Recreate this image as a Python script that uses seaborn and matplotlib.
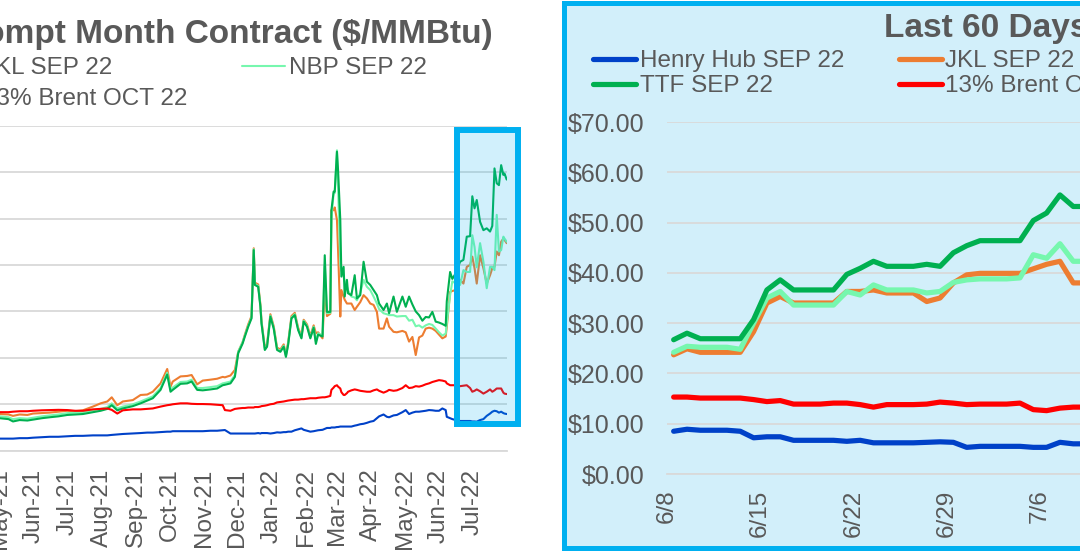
import pandas as pd
import matplotlib
matplotlib.use("Agg")
import matplotlib.pyplot as plt
from matplotlib.patches import Rectangle
import seaborn as sns

sns.set_theme(style="white")
plt.rcParams['font.family'] = ['Liberation Sans', 'DejaVu Sans']
plt.rcParams['text.color'] = '#595959'

W, H = 1080, 554

names = ["Henry Hub SEP 22", "JKL SEP 22", "NBP SEP 22", "TTF SEP 22", "13% Brent OCT 22"]
colors = ["#0041C8", "#ED7D31", "#76F7AE", "#00B050", "#FF0000"]

# ---- full history (left chart) ----
hist_dates = [
    "2021-05-01", "2021-05-09", "2021-05-13", "2021-05-19", "2021-05-26", "2021-05-31",
    "2021-06-08", "2021-06-15", "2021-06-23", "2021-07-01", "2021-07-08", "2021-07-15",
    "2021-07-24", "2021-07-31", "2021-08-06", "2021-08-10", "2021-08-15", "2021-08-20",
    "2021-08-29", "2021-09-05", "2021-09-11", "2021-09-16", "2021-09-23", "2021-09-29",
    "2021-10-02", "2021-10-04", "2021-10-11", "2021-10-17", "2021-10-21", "2021-10-26",
    "2021-10-31", "2021-11-07", "2021-11-13", "2021-11-18", "2021-11-20", "2021-11-25",
    "2021-11-29", "2021-12-02", "2021-12-06",
    "2021-12-08", "2021-12-11", "2021-12-14", "2021-12-16", "2021-12-17", "2021-12-20",
    "2021-12-22", "2021-12-23", "2021-12-26", "2021-12-28", "2021-12-31", "2022-01-03",
    "2022-01-06", "2022-01-09", "2022-01-12", "2022-01-14", "2022-01-16", "2022-01-19",
    "2022-01-22", "2022-01-25", "2022-01-28", "2022-01-30", "2022-02-02", "2022-02-05",
    "2022-02-08", "2022-02-10", "2022-02-12", "2022-02-16", "2022-02-18", "2022-02-20",
    "2022-02-23", "2022-02-24", "2022-02-26", "2022-02-27", "2022-03-01", "2022-03-02",
    "2022-03-04", "2022-03-05", "2022-03-07", "2022-03-08", "2022-03-10", "2022-03-11",
    "2022-03-14", "2022-03-17", "2022-03-19", "2022-03-22", "2022-03-25", "2022-03-28",
    "2022-03-31", "2022-04-03", "2022-04-06", "2022-04-08", "2022-04-12", "2022-04-15",
    "2022-04-17", "2022-04-21", "2022-04-24", "2022-04-29", "2022-05-02", "2022-05-05",
    "2022-05-08", "2022-05-11", "2022-05-14", "2022-05-17", "2022-05-20", "2022-05-23",
    "2022-05-26", "2022-05-29", "2022-06-01", "2022-06-04", "2022-06-07", "2022-06-08",
    "2022-06-11", "2022-06-13", "2022-06-16", "2022-06-20", "2022-06-23", "2022-06-26",
    "2022-06-29", "2022-07-01", "2022-07-03", "2022-07-05", "2022-07-08", "2022-07-11",
    "2022-07-14", "2022-07-17", "2022-07-19", "2022-07-21", "2022-07-23", "2022-07-25",
    "2022-07-27", "2022-07-29", "2022-07-30", "2022-08-01",
]
hist_hh = [
    2.6, 2.6, 2.6, 2.7, 2.7, 2.8, 2.9, 3.0, 3.0, 3.1, 3.2, 3.2,
    3.3, 3.3, 3.3, 3.4, 3.5, 3.6, 3.7, 3.8, 3.9, 3.9, 4.0, 4.1,
    4.1, 4.2, 4.2, 4.2, 4.2, 4.2, 4.2, 4.3, 4.3, 4.4, 4.45, 3.7,
    3.7, 3.7, 3.7,
    3.7, 3.7, 3.7, 3.7, 3.7, 3.8, 3.7, 3.8, 3.8, 3.8, 3.7, 3.8,
    3.95, 3.9, 4.0, 4.0, 4.1, 4.1, 4.4, 4.6, 4.8, 4.5, 4.3, 4.1,
    4.2, 4.3, 4.4, 4.5, 4.7, 4.9, 4.9, 5.0, 5.0, 5.0, 5.1, 5.1,
    5.2, 5.2, 5.2, 5.2, 5.2, 5.2, 5.2, 5.4, 5.5, 5.7, 5.8, 6.0,
    6.25, 6.4, 7.0, 7.4, 7.8, 7.3, 7.2, 7.6, 7.7, 8.3, 8.75, 7.9,
    8.2, 8.4, 8.4, 8.5, 8.6, 8.75, 8.7, 8.6, 8.6, 9.1, 8.75, 7.3,
    7.0, 6.8, 6.6, 6.4, 6.4, 6.4, 6.4, 6.3, 6.3, 6.25, 6.6, 6.8,
    7.5, 8.0, 8.4, 8.6, 8.5, 8.2, 8.4, 8.1, 8.0, 7.9,
]
hist_jkl = [
    7.9, 7.8, 7.5, 7.8, 7.7, 8.0, 8.1, 8.2, 8.4, 8.6, 8.5, 8.7,
    9.5, 10.2, 10.6, 11.5, 9.8, 10.6, 10.9, 12.0, 12.1, 12.7, 14.5, 17.6,
    13.8, 14.9, 16.0, 16.1, 16.3, 14.3, 15.1, 15.3, 15.5, 15.9, 15.8, 16.2,
    17.4, 21.3, 23.4,
    25.0, 27.2, 29.0, 43.6, 36.2, 35.8, 31.5, 27.9, 22.2, 22.9, 29.4, 26.8,
    22.2, 21.8, 22.9, 20.7, 23.3, 29.0, 29.7, 26.5, 24.7, 28.2, 27.2, 24.7,
    27.0, 25.3, 25.5, 24.2, 35.0, 29.0, 29.5, 51.8, 51.8, 52.4, 49.7, 43.2,
    28.9, 34.6, 33.2, 32.5, 31.7, 31.7, 31.7, 30.3, 31.0, 32.0, 33.5, 32.8,
    31.7, 31.4, 29.9, 26.3, 26.3, 28.5, 26.7, 25.6, 25.5, 25.8, 25.5, 23.5,
    24.5, 20.6, 24.4, 24.8, 26.3, 26.5, 26.3, 25.8, 25.0, 24.2, 24.6, 26.7,
    34.2, 34.4, 34.6, 36.8, 36.0, 39.6, 40.0, 41.8, 39.3, 36.0, 42.1, 39.3,
    36.0, 37.8, 39.3, 39.6, 42.9, 42.1, 45.0, 45.7, 45.4, 44.7,
]
hist_nbp = [
    7.4, 7.2, 6.8, 7.0, 6.9, 7.1, 7.4, 7.6, 7.8, 8.1, 8.2, 8.3,
    8.7, 9.0, 9.4, 10.2, 9.1, 9.5, 10.0, 10.6, 11.2, 11.7, 13.5, 16.8,
    13.1, 13.6, 14.8, 14.9, 15.3, 13.5, 13.5, 13.7, 13.9, 14.5, 14.6, 14.9,
    16.3, 21.3, 23.4,
    24.8, 26.9, 28.7, 43.4, 35.9, 35.5, 31.2, 27.6, 21.8, 22.6, 29.1, 26.5,
    21.9, 21.5, 22.6, 20.4, 23.0, 28.7, 29.4, 26.2, 24.4, 28.0, 26.9, 24.4,
    26.7, 23.5, 25.3, 24.8, 40.0, 29.6, 29.7, 50.0, 55.5, 55.5, 64.7, 57.0,
    40.3, 38.9, 37.5, 36.5, 35.3, 34.5, 33.2, 33.0, 32.4, 34.0, 36.8, 35.3,
    34.6, 33.2, 31.7, 30.5, 29.6, 29.4, 29.2, 29.2, 28.9, 29.0, 29.0, 28.0,
    28.2, 26.8, 27.0, 26.5, 27.0, 27.3, 27.1, 26.3, 25.5, 24.8, 25.2, 27.5,
    33.5, 36.5, 36.0, 35.7, 38.9, 38.5, 38.5, 46.4, 43.9, 39.5, 44.7, 40.7,
    35.0, 39.6, 39.6, 38.9, 50.8, 42.9, 43.2, 46.1, 45.7, 45.0,
]
hist_ttf = [
    7.0, 6.8, 6.3, 6.6, 6.5, 6.7, 7.0, 7.2, 7.4, 7.7, 7.8, 7.9,
    8.3, 8.6, 9.0, 9.8, 8.7, 9.1, 9.6, 10.2, 10.8, 11.3, 13.1, 16.4,
    12.7, 13.1, 14.4, 14.5, 14.9, 13.1, 13.0, 13.2, 13.4, 14.1, 14.2, 14.5,
    15.9, 21.0, 23.1,
    24.6, 26.7, 28.5, 43.2, 35.7, 35.3, 31.0, 27.4, 21.7, 22.4, 28.9, 26.3,
    21.7, 21.3, 22.4, 20.2, 22.8, 28.5, 29.2, 26.0, 24.2, 27.8, 26.7, 24.2,
    26.5, 23.0, 25.0, 24.6, 42.1, 29.9, 29.9, 51.8, 55.8, 55.8, 64.4, 60.4,
    49.7, 37.5, 39.6, 33.2, 36.8, 33.9, 33.5, 37.8, 32.8, 33.5, 40.7, 36.4,
    35.7, 34.6, 33.5, 31.7, 30.3, 31.7, 29.6, 33.2, 29.9, 33.2, 31.0, 33.2,
    31.5, 30.0, 29.2, 28.0, 28.8, 28.7, 29.9, 27.8, 27.6, 27.3, 26.9, 32.2,
    38.5, 37.0, 38.2, 40.7, 41.1, 46.1, 46.2, 54.8, 52.2, 54.0, 49.3, 47.5,
    47.9, 47.2, 48.4, 60.8, 57.6, 57.2, 61.5, 59.4, 59.7, 58.4,
]
hist_brent = [
    8.3, 8.3, 8.4, 8.5, 8.5, 8.6, 8.7, 8.75, 8.8, 8.75, 8.6, 8.6,
    8.9, 9.0, 9.1, 8.8, 8.0, 8.7, 8.9, 8.9, 9.0, 9.1, 9.5, 9.8,
    9.9, 10.0, 10.2, 10.2, 10.1, 10.05, 10.05, 10.0, 9.9, 9.8, 8.75, 8.6,
    9.0, 9.1, 9.2,
    9.2, 9.3, 9.3, 9.3, 9.4, 9.4, 9.5, 9.6, 9.7, 9.8, 10.0, 10.1,
    10.4, 10.5, 10.6, 10.7, 10.8, 10.9, 11.0, 11.0, 11.1, 11.1, 11.2, 11.3,
    11.3, 11.3, 11.4, 11.5, 11.5, 11.6, 11.8, 13.1, 13.6, 13.9, 14.1, 13.8,
    13.4, 12.6, 12.0, 12.0, 12.4, 12.7, 13.0, 13.2, 13.1, 12.9, 12.8, 12.7,
    12.7, 13.0, 13.2, 12.9, 12.5, 12.8, 13.1, 12.9, 13.0, 13.5, 14.1, 13.5,
    13.6, 13.9, 13.8, 14.0, 14.3, 14.5, 14.8, 15.0, 15.2, 15.1, 14.9, 14.5,
    14.1, 14.1, 14.1, 13.9, 14.0, 14.1, 13.5, 12.7, 12.9, 13.2, 12.8, 12.3,
    12.7, 13.2, 12.7, 13.0, 13.4, 13.4, 13.4, 12.5, 12.3, 12.2,
]

# ---- last 60 days (right chart), daily from 6/8 ----
recent_start = "2022-06-08"
recent_hh = [8.5, 8.9, 8.7, 8.7, 8.7, 8.5, 7.2, 7.4, 7.4, 6.7, 6.7, 6.7, 6.7, 6.5, 6.7, 6.2,
             6.2, 6.2, 6.2, 6.3, 6.4, 6.3, 5.3, 5.5, 5.5, 5.5, 5.5, 5.3, 5.3, 6.3, 6.0, 6.0]
recent_jkl = [23.7, 24.9, 24.2, 24.2, 24.2, 24.2, 28.3, 34.0, 35.3, 34.0, 34.0, 34.0, 34.0, 36.3, 36.3, 36.6,
              36.0, 36.0, 36.0, 34.3, 35.0, 38.0, 39.6, 39.9, 39.9, 39.9, 39.9, 40.8, 41.7, 42.3, 38.0, 38.0]
recent_nbp = [24.2, 25.4, 25.2, 25.2, 25.2, 24.8, 30.0, 35.0, 36.3, 33.6, 33.6, 33.6, 33.6, 36.3, 35.6, 37.6,
              36.6, 36.6, 36.6, 36.0, 36.3, 38.1, 38.6, 38.8, 38.8, 38.8, 39.0, 43.6, 42.9, 45.8, 42.3, 42.3]
recent_ttf = [26.7, 28.0, 26.9, 26.9, 26.9, 26.9, 30.7, 36.6, 38.6, 36.6, 36.6, 36.6, 36.6, 39.7, 40.9, 42.3,
              41.3, 41.3, 41.3, 41.7, 41.3, 44.0, 45.4, 46.4, 46.4, 46.4, 46.4, 50.4, 51.9, 55.5, 53.2, 53.2]
recent_brent = [15.3, 15.3, 15.1, 15.1, 15.1, 15.1, 14.8, 14.4, 14.6, 13.9, 13.9, 13.9, 14.1, 14.1, 13.8, 13.3,
                13.8, 13.8, 13.8, 13.9, 14.3, 14.1, 13.8, 13.9, 13.9, 13.9, 14.1, 12.8, 12.6, 13.1, 13.3, 13.3]

hist = pd.DataFrame({"date": pd.to_datetime(hist_dates), names[0]: hist_hh, names[1]: hist_jkl,
                     names[2]: hist_nbp, names[3]: hist_ttf, names[4]: hist_brent})
recent = pd.DataFrame({names[0]: recent_hh, names[1]: recent_jkl, names[2]: recent_nbp,
                       names[3]: recent_ttf, names[4]: recent_brent})
# points sit in the middle of each day
recent["date"] = pd.date_range(recent_start, periods=len(recent), freq="D") + pd.Timedelta(hours=12)


def fr(x, y):
    # pixel (from top-left) -> figure fraction
    return x / W, 1 - y / H


fig = plt.figure(figsize=(W / 100, H / 100), dpi=100)
fig.patch.set_facecolor("white")

grid_c = "#D9D9D9"
fs = 17.5
legend_kw = dict(loc="upper left", bbox_transform=fig.transFigure, ncol=3, frameon=False,
                 borderpad=0, borderaxespad=0, handlelength=1.77, handletextpad=0.15,
                 columnspacing=2.25, fontsize=fs, labelcolor="#595959")
order = [0, 3, 1, 4, 2]  # excel fills the legend row by row

# right panel background + border
x0, y0 = fr(564, 547.5)
fig.patches.append(Rectangle((x0, y0), 600 / W, 545 / H, transform=fig.transFigure,
                             facecolor="#D2EFFA", edgecolor="#00B0F0", linewidth=3.6, zorder=-1))

# ---- left chart ----
axl = fig.add_axes([-33.6 / W, 1 - 450.7 / H, 540.3 / W, 325 / H])
axl.set_facecolor("none")
for name, c in zip(names, colors):
    sns.lineplot(data=hist, x="date", y=name, color=c, linewidth=1.5, label=name, ax=axl)
axl.set_xlim(pd.Timestamp("2021-04-01"), pd.Timestamp("2022-08-01"))
axl.set_ylim(0, 70)
months = pd.date_range("2021-04-01", "2022-08-01", freq="MS")
axl.set_xticks(months)
axl.set_xticklabels([m.strftime("%b-%y") for m in months[:-1]] + [""], rotation=90, fontsize=fs)
axl.set_yticks(range(0, 80, 10))
axl.set_yticklabels([f"${v:.2f}" for v in range(0, 80, 10)], fontsize=18)
axl.tick_params(axis="x", length=5.4, width=1.2, color=grid_c, pad=7.5, labelcolor="#595959")
axl.tick_params(axis="y", length=0, pad=16, labelcolor="#595959")
axl.grid(axis="y", color=grid_c, linewidth=1.3)
axl.grid(axis="x", visible=False)
sns.despine(ax=axl, left=True)
axl.spines["bottom"].set_color(grid_c)
axl.spines["bottom"].set_linewidth(1.3)
axl.set_xlabel("")
axl.set_ylabel("")

h, l = axl.get_legend_handles_labels()
axl.legend([h[i] for i in order], [l[i] for i in order], bbox_to_anchor=fr(-369, 57),
           labelspacing=0.36, **legend_kw)

fig.text(*fr(493, 43.3), "Prompt Month Contract ($/MMBtu)", ha="right", va="baseline",
         fontsize=24, fontweight="bold", color="#595959")

# highlight box over the last 60 days
bx, by = fr(457, 424)
fig.patches.append(Rectangle((bx, by), 61 / W, 294 / H, transform=fig.transFigure,
                             facecolor=(0.0, 0.69, 0.94, 0.18), edgecolor="#00B0F0",
                             linewidth=4.3, zorder=10))

# ---- right chart ----
axr = fig.add_axes([667 / W, 1 - 474 / H, 799.2 / W, 352 / H])
axr.set_facecolor("none")
for name, c in zip(names, colors):
    sns.lineplot(data=recent, x="date", y=name, color=c, linewidth=3.75, label=name, ax=axr,
                 solid_capstyle="round")
axr.set_xlim(pd.Timestamp("2022-06-08"), pd.Timestamp("2022-08-07"))
axr.set_ylim(0, 70)
wk = pd.date_range("2022-06-08", "2022-08-07", freq="7D")
axr.set_xticks(wk)
axr.set_xticklabels([f"{d.month}/{d.day}" for d in wk], rotation=90, fontsize=fs)
axr.set_yticks(range(0, 80, 10))
axr.set_yticklabels([f"${v:.2f}" for v in range(0, 80, 10)], fontsize=18)
axr.tick_params(axis="x", length=5, width=1.2, color=grid_c, pad=6, labelcolor="#595959")
axr.tick_params(axis="y", length=0, pad=16, labelcolor="#595959")
axr.grid(axis="y", color=grid_c, linewidth=1.3)
axr.grid(axis="x", visible=False)
sns.despine(ax=axr, left=True)
axr.spines["bottom"].set_color(grid_c)
axr.spines["bottom"].set_linewidth(1.3)
axr.set_xlabel("")
axr.set_ylabel("")

h, l = axr.get_legend_handles_labels()
axr.legend([h[i] for i in order], [l[i] for i in order], bbox_to_anchor=fr(593, 50),
           labelspacing=0.14, **legend_kw)

fig.text(*fr(884, 36.7), "Last 60 Days", ha="left", va="baseline",
         fontsize=24, fontweight="bold", color="#595959")

fig.savefig("out.png", dpi=100)
